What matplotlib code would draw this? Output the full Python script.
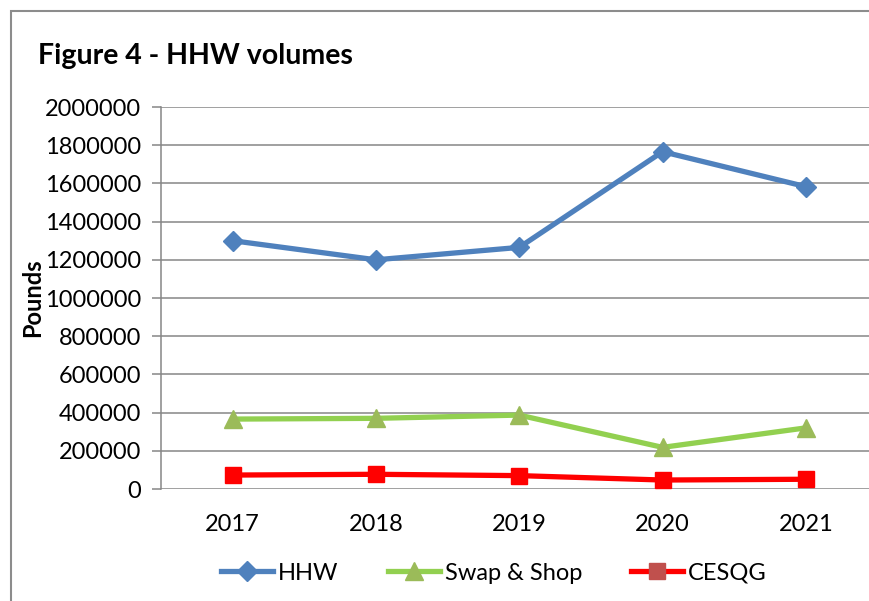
import matplotlib.pyplot as plt
from matplotlib.patches import Rectangle

years = ["2017", "2018", "2019", "2020", "2021"]
hhw = [1300000, 1200000, 1265000, 1766000, 1583000]
swap_shop = [366000, 370000, 387000, 218000, 320000]
cesqg = [73000, 77000, 70000, 47000, 51000]
y_ticks = [0, 200000, 400000, 600000, 800000, 1000000, 1200000,
           1400000, 1600000, 1800000, 2000000]

plt.rcParams['font.family'] = ['Lato', 'DejaVu Sans']
GRID = '#868686'

fig = plt.figure(figsize=(8.7, 6.01), dpi=100)
fig.patches.append(Rectangle((11 / 870, -0.1), 1.2, 1 - 11 / 601 + 0.1,
                             transform=fig.transFigure, fill=False,
                             edgecolor='#8c8c8c', linewidth=1.5))

ax = fig.add_axes([161 / 870, 1 - 489 / 601, 716.5 / 870, 382 / 601])
x = range(len(years))

ax.plot(x, hhw, color='#4F81BD', linewidth=3.8, marker='D', markersize=10,
        markerfacecolor='#4F81BD', markeredgecolor='#4F81BD', label='HHW',
        zorder=3)
ax.plot(x, swap_shop, color='#92D050', linewidth=3.8, marker='^', markersize=13,
        markerfacecolor='#9BBB59', markeredgecolor='#9BBB59', label='Swap & Shop',
        zorder=3)
ax.plot(x, cesqg, color='#FF0000', linewidth=3.8, marker='s', markersize=12,
        markerfacecolor='#FF0000', markeredgecolor='#FF0000', label='CESQG',
        zorder=3)

ax.set_xlim(-0.5, len(years) - 0.5)
ax.set_ylim(0, 2000000)
ax.set_yticks(y_ticks)
ax.set_yticklabels([str(v) for v in y_ticks], fontsize=17)
ax.set_xticks(list(x))
ax.set_xticklabels(years, fontsize=17)
ax.tick_params(axis='x', length=0, pad=18)
ax.tick_params(axis='y', length=6.5, width=1.1, color=GRID, pad=8)
ax.grid(axis='y', color=GRID, linewidth=1.1)
ax.set_axisbelow(True)
for side in ['top', 'right', 'bottom']:
    ax.spines[side].set_visible(False)
ax.spines['left'].set_color(GRID)
ax.spines['left'].set_linewidth(1.1)

fig.text(38 / 870, 1 - 56 / 601, 'Figure 4 - HHW volumes', fontsize=20.5,
         fontweight='bold', va='center', ha='left')
fig.text(33 / 870, 1 - 298 / 601, 'Pounds', fontsize=17, fontweight='bold',
         rotation=90, va='center', ha='center')

leg = fig.legend(loc='center', bbox_to_anchor=(494 / 870, 1 - 573 / 601), ncol=3,
                 frameon=False, fontsize=17, handlelength=2.2, handletextpad=0.2,
                 columnspacing=2.1)
leg.legend_handles[2].set_markerfacecolor('#C0504D')
leg.legend_handles[2].set_markeredgecolor('#C0504D')

fig.savefig('out.png', dpi=100)
